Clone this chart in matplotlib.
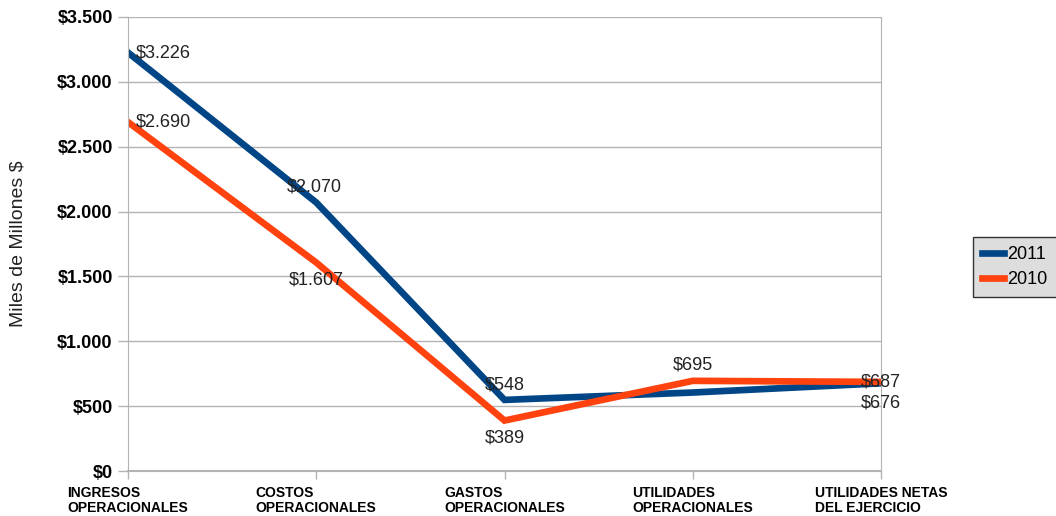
import matplotlib.pyplot as plt
from matplotlib.ticker import FuncFormatter

plt.rcParams["font.family"] = ["Liberation Sans", "DejaVu Sans"]

categories = [
    "INGRESOS\nOPERACIONALES",
    "COSTOS\nOPERACIONALES",
    "GASTOS\nOPERACIONALES",
    "UTILIDADES\nOPERACIONALES",
    "UTILIDADES NETAS\nDEL EJERCICIO",
]
values_2011 = [3226, 2070, 548, 605, 676]
values_2010 = [2690, 1607, 389, 695, 687]
y_ticks = [0, 500, 1000, 1500, 2000, 2500, 3000, 3500]

# label placement per point: (dx px, dy px, ha) -- None hides the label
labels_2011 = [(8, 0, "left"), (-2, 15, "center"), (0, 15, "center"), None, (0, -20, "center")]
labels_2010 = [(8, 0, "left"), (0, -17, "center"), (0, -17, "center"), (0, 16, "center"), (0, 0, "center")]

BLUE = "#004586"
ORANGE = "#ff420e"
GRID = "#b3b3b3"


def money(v, _pos=None):
    return "$" + f"{int(v):,}".replace(",", ".")


def main() -> None:
    fig = plt.figure(figsize=(10.56, 5.16), dpi=100)
    ax = fig.add_axes([128 / 1056, 45 / 516, 753 / 1056, 454 / 516])

    x = list(range(len(categories)))
    ax.plot(x, values_2011, color=BLUE, linewidth=4.8, label="2011", solid_joinstyle="miter")
    ax.plot(x, values_2010, color=ORANGE, linewidth=4.8, label="2010", solid_joinstyle="miter")

    px = 72 / 100
    for vals, offs in ((values_2011, labels_2011), (values_2010, labels_2010)):
        for xi, v, off in zip(x, vals, offs):
            if off is None:
                continue
            dx, dy, ha = off
            ax.annotate(money(v), (xi, v), xytext=(dx * px, dy * px),
                        textcoords="offset points", ha=ha, va="center",
                        fontsize=13, color="#222222")

    ax.set_xlim(0, len(categories) - 1)
    ax.set_ylim(0, 3500)
    ax.set_yticks(y_ticks)
    ax.yaxis.set_major_formatter(FuncFormatter(money))
    ax.set_xticks(x)
    ax.set_xticklabels(categories, fontsize=10, fontweight="bold", multialignment="left",
                       linespacing=1.05)
    for lbl in ax.get_yticklabels():
        lbl.set_fontweight("bold")
        lbl.set_fontsize(13)

    ax.grid(True, axis="y", color=GRID, linewidth=1.0)
    ax.set_axisbelow(True)
    for side in ("left", "right", "bottom"):
        ax.spines[side].set_color(GRID)
    ax.spines["top"].set_visible(False)
    ax.spines["bottom"].set_linewidth(1.5)
    ax.tick_params(axis="both", direction="out", length=7, width=1.0, color=GRID, pad=4)
    ax.tick_params(axis="x", length=6, pad=5)

    ax.set_ylabel("Miles de Millones $", fontsize=14, color="#222222", labelpad=22)

    leg = ax.legend(loc="center left", bbox_to_anchor=(1.115, 0.449), fontsize=13,
                    handlelength=1.2, handletextpad=0.2, borderpad=0.5,
                    labelspacing=0.45, borderaxespad=0.3, fancybox=False, framealpha=1.0)
    leg.get_frame().set_facecolor("#dddddd")
    leg.get_frame().set_edgecolor("#333333")

    fig.savefig("out.png", dpi=100)
    plt.close(fig)


if __name__ == "__main__":
    main()
